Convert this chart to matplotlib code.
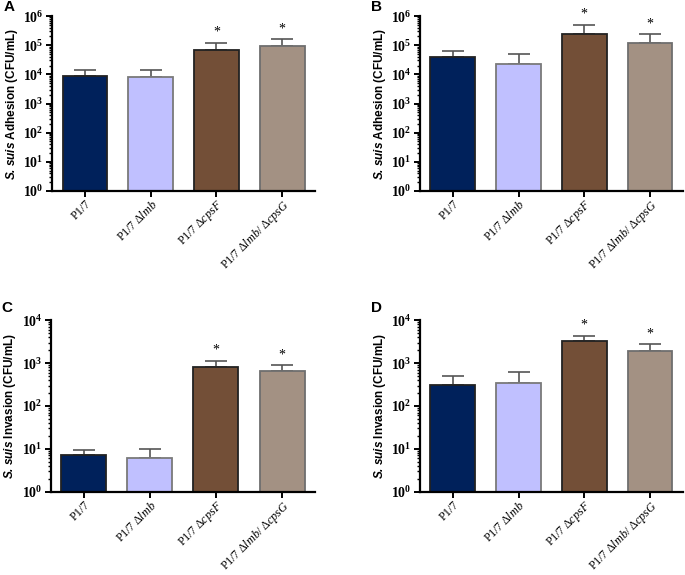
import numpy as np
import matplotlib
matplotlib.use('Agg')
import matplotlib.pyplot as plt
from matplotlib.ticker import LogLocator, LogFormatterMathtext, NullFormatter

plt.rcParams['mathtext.fontset'] = 'custom'
plt.rcParams['mathtext.rm'] = 'Liberation Serif'
plt.rcParams['mathtext.it'] = 'Liberation Serif:italic'
plt.rcParams['mathtext.bfit'] = 'Liberation Sans:bold:italic'

# Data (mean and upper error bar end)
strains = ['P1/7', 'P1/7 $\\mathit{\\Delta lmb}$', 'P1/7 $\\mathit{\\Delta cpsF}$',
           'P1/7 $\\mathit{\\Delta lmb/\\ \\Delta cpsG}$']
adhesion_a = [8.5e3, 7.9e3, 6.9e4, 9.6e4]
adhesion_a_err = [1.37e4, 1.44e4, 1.2e5, 1.6e5]
adhesion_b = [4.0e4, 2.25e4, 2.35e5, 1.15e5]
adhesion_b_err = [6.5e4, 4.9e4, 5.0e5, 2.35e5]
invasion_c = [7.3, 6.1, 820, 650]
invasion_c_err = [9.5, 10.0, 1140, 880]
invasion_d = [305, 345, 3300, 1950]
invasion_d_err = [500, 615, 4400, 2750]
significant = [False, False, True, True]

bar_colors = ['#00215B', '#C0C0FF', '#734F37', '#A39183']
edge_colors = ['#222222', '#7a7a7a', '#222222', '#6e6e6e']


def draw_panel(ax, means, tops, ymax, ylabel, letter, letter_y):
    x = np.arange(len(means))
    means = np.array(means)
    tops = np.array(tops)
    ax.bar(x, means, width=0.68, color=bar_colors, edgecolor=edge_colors,
           linewidth=1.3, zorder=2)
    ax.errorbar(x, means, yerr=[np.zeros_like(means), tops - means], fmt='none',
                ecolor='#555555', elinewidth=1.2, capsize=8, capthick=1.2, zorder=1)
    for xi, t, s in zip(x, tops, significant):
        if s:
            ax.annotate('*', (xi, t), xytext=(0, 3), textcoords='offset points',
                        ha='center', va='bottom', fontsize=10, family='Liberation Serif')
    ax.set_yscale('log')
    ax.set_ylim(1, ymax)
    ax.set_xlim(-0.5, 3.5)
    ax.yaxis.set_major_locator(LogLocator(base=10, numticks=10))
    ax.yaxis.set_minor_locator(LogLocator(base=10, subs=np.arange(2, 10), numticks=10))
    ax.yaxis.set_major_formatter(LogFormatterMathtext())
    ax.yaxis.set_minor_formatter(NullFormatter())
    for lab in ax.get_yticklabels():
        lab.set_family('Liberation Serif')
        lab.set_weight('bold')
        lab.set_fontsize(10)
    ax.set_xticks(x)
    ax.set_xticklabels(strains, rotation=45, ha='right', rotation_mode='anchor',
                       family='Liberation Serif', fontsize=8.7)
    ax.spines['top'].set_visible(False)
    ax.spines['right'].set_visible(False)
    ax.spines['left'].set_linewidth(1.6)
    ax.spines['bottom'].set_linewidth(1.6)
    ax.tick_params(axis='y', which='major', width=1.4, length=4, pad=2)
    ax.tick_params(axis='x', which='major', width=1.4, length=4, pad=1)
    ax.tick_params(axis='y', which='minor', width=1.0, length=2.5)
    ax.set_ylabel('$\\mathbfit{S.\\,suis}$ ' + ylabel, family='Liberation Sans',
                  weight='bold', fontsize=8.5)
    ax.yaxis.set_label_coords(-0.122, 0.5)
    ax.text(-0.185, letter_y, letter, transform=ax.transAxes, family='Liberation Sans',
            weight='bold', fontsize=11, ha='left', va='center')


fig = plt.figure(figsize=(6.85, 5.75), dpi=100)
ax_a = fig.add_axes([0.076, 0.668, 0.384, 0.304])
ax_b = fig.add_axes([0.613, 0.668, 0.384, 0.304])
ax_c = fig.add_axes([0.074, 0.145, 0.386, 0.298])
ax_d = fig.add_axes([0.613, 0.145, 0.384, 0.298])

draw_panel(ax_a, adhesion_a, adhesion_a_err, 1e6, 'Adhesion (CFU/mL)', 'A', 1.05)
draw_panel(ax_b, adhesion_b, adhesion_b_err, 1e6, 'Adhesion (CFU/mL)', 'B', 1.05)
draw_panel(ax_c, invasion_c, invasion_c_err, 1e4, 'Invasion (CFU/mL)', 'C', 1.07)
draw_panel(ax_d, invasion_d, invasion_d_err, 1e4, 'Invasion (CFU/mL)', 'D', 1.07)

fig.savefig('out.png', dpi=100)
